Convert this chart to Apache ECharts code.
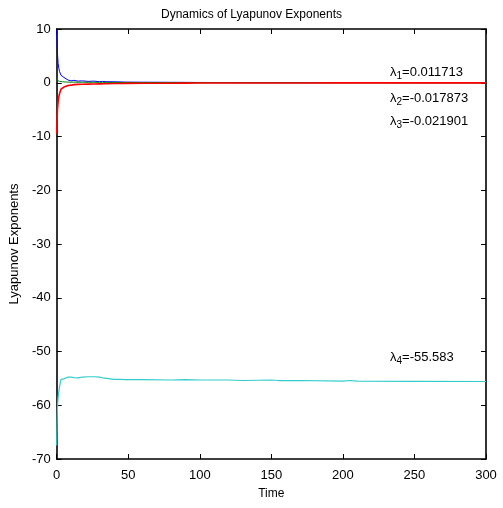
<!DOCTYPE html>
<html>
<head>
<meta charset="utf-8">
<script src="https://cdn.jsdelivr.net/npm/echarts@6/dist/echarts.min.js"></script>
<style>html,body{margin:0;padding:0;background:#fff}#c{width:503px;height:508px}</style>
</head>
<body>
<div id="c"></div>
<script>
// Time samples (dense near the start, where the exponents move fast)
const time = [0, 0.3, 0.6, 1, 1.5, 2, 3, 4, 5, 6, 8, 10, 12, 15, 18, 22, 26, 30, 32, 35, 40, 45, 46, 48, 60, 80, 90, 100, 120, 130, 150, 155, 170, 200, 205, 210, 250, 300];

// Running estimates of each exponent
const lambda1 = [9.8, 7.0, 5.2, 3.6, 2.7, 2.1, 1.4, 1.1, 1.0, 0.8, 0.5, 0.35, 0.45, 0.3, 0.35, 0.25, 0.3, 0.2, 0.25, 0.2, 0.18, 0.15, 0.2, 0.12, 0.1, 0.08, 0.07, 0.05, 0.04, 0.035, 0.03, 0.03, 0.025, 0.02, 0.02, 0.018, 0.015, 0.011713];
const lambda2 = [0.9, 0.6, 0.45, 0.35, 0.3, 0.25, 0.2, 0.18, 0.15, 0.14, 0.12, 0.1, 0.12, 0.09, 0.1, 0.08, 0.09, 0.07, 0.08, 0.06, 0.06, 0.05, 0.07, 0.05, 0.04, 0.02, 0.01, 0.0, -0.005, -0.008, -0.01, -0.01, -0.012, -0.014, -0.015, -0.015, -0.017, -0.017873];
const lambda3 = [-9.5, -6.5, -4.8, -3.5, -2.6, -2.0, -1.2, -0.9, -0.8, -0.6, -0.5, -0.45, -0.35, -0.3, -0.28, -0.25, -0.22, -0.2, -0.2, -0.18, -0.15, -0.13, -0.13, -0.12, -0.1, -0.08, -0.07, -0.06, -0.05, -0.05, -0.04, -0.04, -0.035, -0.03, -0.03, -0.03, -0.025, -0.021901];
const lambda4 = [-67.5, -63, -60, -58.5, -57.5, -56.5, -55.2, -55.0, -55.1, -54.9, -54.75, -54.75, -54.85, -54.9, -54.75, -54.7, -54.7, -54.75, -54.9, -55.0, -55.2, -55.2, -55.05, -55.25, -55.25, -55.3, -55.25, -55.3, -55.3, -55.4, -55.3, -55.4, -55.4, -55.5, -55.4, -55.5, -55.55, -55.583];

const xTicks = {min: 0, max: 300, step: 50};
const yTicks = {min: -70, max: 10, step: 10};

const finals = [
  {sub: '1', value: '0.011713'},
  {sub: '2', value: '-0.017873'},
  {sub: '3', value: '-0.021901'},
  {sub: '4', value: '-55.583'}
];

const font = 'Liberation Sans, Arial, sans-serif';
const pair = (ys) => time.map((t, i) => [t, ys[i]]);

const chart = echarts.init(document.getElementById('c'), null, {renderer: 'canvas'});

const axisCommon = {
  axisLine: {show: true, onZero: false, lineStyle: {color: '#000', width: 1.6}},
  axisTick: {show: true, inside: true, length: 5, lineStyle: {color: '#000'}},
  splitLine: {show: false}
};

function lambdaLabel(f, left, top) {
  return {
    type: 'text', left: left, top: top,
    style: {
      text: '{l|λ}{s|' + f.sub + '}{l|=' + f.value + '}',
      rich: {
        l: {fontFamily: font, fontSize: 13, fill: '#000'},
        s: {fontFamily: font, fontSize: 10, fill: '#000', padding: [7, 0, 0, 0]}
      }
    }
  };
}

chart.setOption({
  animation: false,
  backgroundColor: '#fff',
  title: {
    text: 'Dynamics of Lyapunov Exponents', left: 'center', top: 4,
    textStyle: {fontFamily: font, fontSize: 12, fontWeight: 'normal', color: '#000'}
  },
  grid: {left: 53, right: 17, top: 29, bottom: 49},
  xAxis: [
    Object.assign({
      type: 'value', position: 'bottom', min: xTicks.min, max: xTicks.max, interval: xTicks.step,
      name: 'Time', nameLocation: 'middle', nameGap: 29,
      nameTextStyle: {fontFamily: font, fontSize: 12, color: '#000'},
      axisLabel: {fontFamily: font, fontSize: 13, color: '#000', margin: 10}
    }, axisCommon),
    Object.assign({
      type: 'value', position: 'top', min: xTicks.min, max: xTicks.max, interval: xTicks.step,
      axisLabel: {show: false}
    }, axisCommon)
  ],
  yAxis: [
    Object.assign({
      type: 'value', position: 'left', min: yTicks.min, max: yTicks.max, interval: yTicks.step,
      name: 'Lyapunov Exponents', nameLocation: 'middle', nameGap: 31,
      nameTextStyle: {fontFamily: font, fontSize: 13, color: '#000'},
      axisLabel: {fontFamily: font, fontSize: 13, color: '#000', margin: 6}
    }, axisCommon),
    Object.assign({
      type: 'value', position: 'right', min: yTicks.min, max: yTicks.max, interval: yTicks.step,
      axisLabel: {show: false}
    }, axisCommon)
  ],
  series: [
    {type: 'line', data: pair(lambda1), showSymbol: false, lineStyle: {color: '#0000ff', width: 1}},
    {type: 'line', data: pair(lambda2), showSymbol: false, lineStyle: {color: '#008000', width: 1}},
    {type: 'line', data: pair(lambda4), showSymbol: false, lineStyle: {color: '#33cccc', width: 1.2}},
    {type: 'line', data: pair(lambda3), showSymbol: false, lineStyle: {color: '#ff0000', width: 1.6}}
  ],
  graphic: [
    lambdaLabel(finals[0], 390, 66),
    lambdaLabel(finals[1], 390, 92),
    lambdaLabel(finals[2], 390, 115),
    lambdaLabel(finals[3], 390, 351)
  ]
});
</script>
</body>
</html>
